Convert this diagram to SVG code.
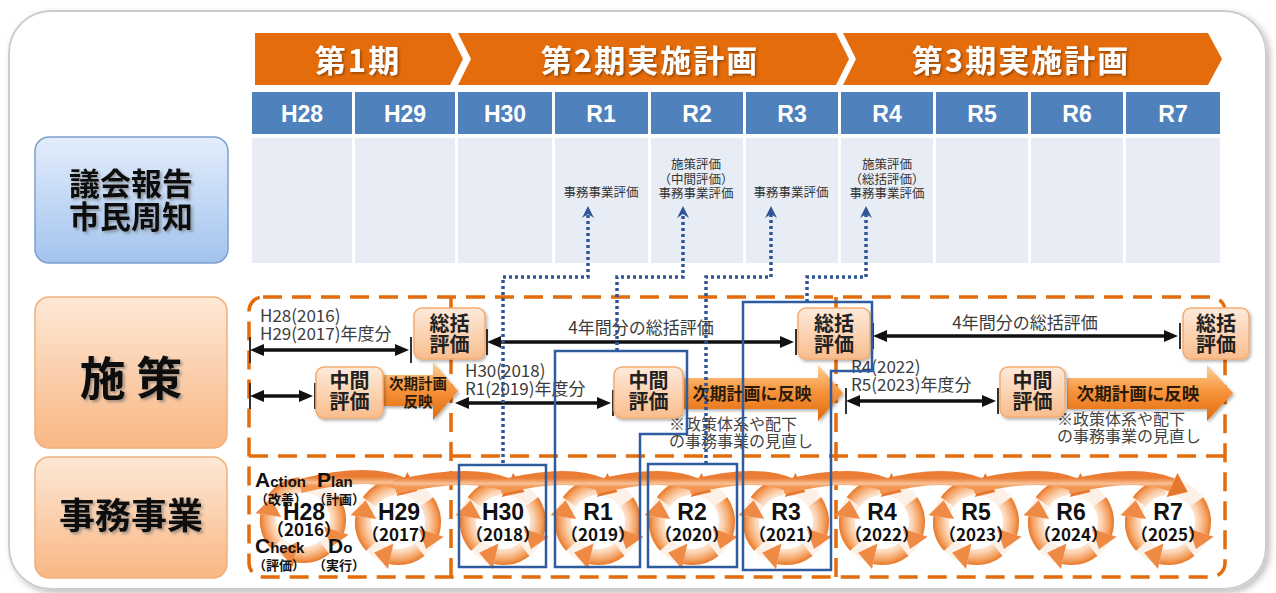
<svg xmlns="http://www.w3.org/2000/svg" xmlns:xlink="http://www.w3.org/1999/xlink" width="1276" height="593" viewBox="0 0 1276 593">
<style>
.jp{font-family:'Noto Sans CJK JP','Noto Sans',sans-serif}
.lat{font-family:'Liberation Sans',Arial,sans-serif}
.hdr{font-family:'Noto Sans CJK JP',sans-serif;font-weight:bold;font-size:31px;fill:#fff;text-anchor:middle;letter-spacing:2px}
.yr{font-family:'Liberation Sans',Arial,sans-serif;font-weight:bold;font-size:23px;fill:#fff;text-anchor:middle}
.cell{fill:#e8ecf4}
.hcell{fill:#4f81bd}
.small{font-family:'Noto Sans CJK JP',sans-serif;font-size:12.5px;fill:#333;text-anchor:middle}
.lbl{font-family:'Noto Sans CJK JP',sans-serif;font-weight:bold;fill:#111;text-anchor:middle}
.ev{fill:url(#gEval);stroke:#f2ac72;stroke-width:1.5}
.evt{font-family:'Noto Sans CJK JP',sans-serif;font-weight:bold;font-size:20px;fill:#222;text-anchor:middle}
.note{font-family:'Noto Sans CJK JP',sans-serif;font-size:17px;fill:#3c3c3c}
.note2{font-family:'Noto Sans CJK JP',sans-serif;font-size:16px;fill:#444}
.blk{fill:url(#gBlk)}
.blkt{font-family:'Noto Sans CJK JP',sans-serif;font-weight:bold;fill:#2a1a0a;text-anchor:middle}
.dash{fill:none;stroke:#e46c0a;stroke-width:3.5;stroke-dasharray:19 10}
.arr{stroke:#111;stroke-width:3.5;marker-start:url(#ah);marker-end:url(#ah)}
.tick{stroke:#333;stroke-width:2}
.dot{fill:none;stroke:#2f5597;stroke-width:3.5;stroke-dasharray:3 3;marker-end:url(#up)}
.hl{fill:none;stroke:#2e5c9e;stroke-width:2.5}
.rn{font-family:'Liberation Sans',Arial,sans-serif;font-weight:bold;font-size:23px;fill:#111;text-anchor:middle}
.ry{font-family:'Noto Sans CJK JP',sans-serif;font-weight:bold;font-size:17px;fill:#111;text-anchor:middle}
.pd{font-family:'Liberation Sans',Arial,sans-serif;font-weight:bold;fill:#111}
.pdj{font-family:'Noto Sans CJK JP',sans-serif;font-weight:bold;font-size:13px;fill:#111}
</style>
<defs>
<filter id="sh" x="-10%" y="-10%" width="130%" height="130%"><feDropShadow dx="1.5" dy="2" stdDeviation="1.5" flood-color="#000" flood-opacity="0.3"/></filter>
<filter id="psh" x="-5%" y="-5%" width="110%" height="110%"><feDropShadow dx="3" dy="3" stdDeviation="3" flood-color="#000" flood-opacity="0.25"/></filter>
<filter id="tsh" x="-10%" y="-10%" width="130%" height="130%"><feDropShadow dx="1.5" dy="1.5" stdDeviation="1" flood-color="#5a2a00" flood-opacity="0.6"/></filter>
<filter id="lsh" x="-10%" y="-10%" width="130%" height="130%"><feDropShadow dx="2" dy="2" stdDeviation="1.5" flood-color="#666" flood-opacity="0.6"/></filter>
<linearGradient id="gBlue" x1="0" y1="0" x2="0" y2="1"><stop offset="0" stop-color="#e3eefc"/><stop offset="1" stop-color="#a3c3ee"/></linearGradient>
<linearGradient id="gPeach" x1="0" y1="0" x2="0" y2="1"><stop offset="0" stop-color="#fde8d6"/><stop offset="1" stop-color="#f9b784"/></linearGradient>
<linearGradient id="gEval" x1="0" y1="0" x2="0" y2="1"><stop offset="0" stop-color="#fdeadb"/><stop offset="1" stop-color="#f9bd8c"/></linearGradient>
<linearGradient id="gBlk" x1="0" y1="0" x2="0" y2="1"><stop offset="0" stop-color="#fcd39a"/><stop offset="0.45" stop-color="#f7963e"/><stop offset="1" stop-color="#e26a0c"/></linearGradient>
<radialGradient id="gRing" gradientUnits="userSpaceOnUse" cx="0" cy="0" r="44"><stop offset="0.55" stop-color="#fff1e6"/><stop offset="0.7" stop-color="#fbd3b2"/><stop offset="0.87" stop-color="#f5a060"/><stop offset="1" stop-color="#e3701f"/></radialGradient>
<linearGradient id="gSw" x1="0" y1="0" x2="0" y2="1"><stop offset="0" stop-color="#ea7c33"/><stop offset="0.6" stop-color="#f9c197"/><stop offset="1" stop-color="#f29652"/></linearGradient>
<marker id="ah" markerUnits="userSpaceOnUse" markerWidth="14" markerHeight="12" viewBox="0 0 14 12" refX="8" refY="6" orient="auto-start-reverse"><path d="M0,0 L14,6 L0,12 z" fill="#111"/></marker>
<marker id="up" markerUnits="userSpaceOnUse" markerWidth="12" markerHeight="12" viewBox="0 0 12 12" refX="4" refY="6" orient="auto"><path d="M0,0 L12,6 L0,12 L4,6 z" fill="#2f5597"/></marker>
<g id="ring">
<circle r="35" fill="none" stroke="#fbe3d0" stroke-width="16" opacity="0.5"/>
<g fill="none" stroke="url(#gRing)" stroke-width="16">
<path d="M28.7,-20.1 A35,35 0 0 1 33.3,10.8"/>
<path d="M21.5,27.6 A35,35 0 0 1 -7.3,34.2"/>
<path d="M-26,23.4 A35,35 0 0 1 -34.7,-4.9"/>
<path d="M-28.7,-20.1 A35,35 0 0 1 -3.1,-34.9"/>
</g>
<g fill="#ef8a45">
<polygon points="45.7,14.8 20.9,6.8 28,27"/>
<polygon points="-10,46.9 -4.6,21.5 -23.9,30.7"/>
<polygon points="-47.6,-6.7 -21.8,-3.1 -32.3,-21.7"/>
</g>
</g>
<g id="sw">
<path d="M-3.1,-34.9 C25,-42 70,-50 99,-37" fill="none" stroke="url(#gSw)" stroke-width="14"/>
<polygon points="93.7,-25.1 104.3,-48.9 114.5,-30" fill="#e8772e"/>
</g>
</defs>

<rect id="panel" x="9" y="11" width="1257" height="578" rx="42" fill="#fff" stroke="#cdcdcd" stroke-width="2" filter="url(#psh)"/>

<g id="phases">
<polygon points="255,33 450,33 463,59 450,85 255,85" fill="#e46c0a"/>
<polygon points="458,33 836,33 849,59 836,85 458,85 471,59" fill="#e46c0a"/>
<polygon points="843,33 1208,33 1222,59 1208,85 843,85 856,59" fill="#e46c0a"/>
<g filter="url(#tsh)">
<text class="hdr" x="358" y="72">第1期</text>
<text class="hdr" x="650" y="72">第2期実施計画</text>
<text class="hdr" x="1021" y="72">第3期実施計画</text>
</g>
</g>

<g id="years">
<rect class="hcell" x="252" y="92" width="100" height="42"/>
<rect class="hcell" x="355" y="92" width="100" height="42"/>
<rect class="hcell" x="458" y="92" width="94" height="42"/>
<rect class="hcell" x="555" y="92" width="93" height="42"/>
<rect class="hcell" x="651" y="92" width="92" height="42"/>
<rect class="hcell" x="746" y="92" width="92" height="42"/>
<rect class="hcell" x="841" y="92" width="92" height="42"/>
<rect class="hcell" x="936" y="92" width="92" height="42"/>
<rect class="hcell" x="1031" y="92" width="92" height="42"/>
<rect class="hcell" x="1126" y="92" width="94" height="42"/>
<text class="yr" x="302" y="122">H28</text>
<text class="yr" x="405" y="122">H29</text>
<text class="yr" x="505" y="122">H30</text>
<text class="yr" x="601" y="122">R1</text>
<text class="yr" x="697" y="122">R2</text>
<text class="yr" x="792" y="122">R3</text>
<text class="yr" x="887" y="122">R4</text>
<text class="yr" x="982" y="122">R5</text>
<text class="yr" x="1077" y="122">R6</text>
<text class="yr" x="1173" y="122">R7</text>
</g>

<g id="report-row">
<rect class="cell" x="252" y="138" width="100" height="125"/>
<rect class="cell" x="355" y="138" width="100" height="125"/>
<rect class="cell" x="458" y="138" width="94" height="125"/>
<rect class="cell" x="555" y="138" width="93" height="125"/>
<rect class="cell" x="651" y="138" width="92" height="125"/>
<rect class="cell" x="746" y="138" width="92" height="125"/>
<rect class="cell" x="841" y="138" width="92" height="125"/>
<rect class="cell" x="936" y="138" width="92" height="125"/>
<rect class="cell" x="1031" y="138" width="92" height="125"/>
<rect class="cell" x="1126" y="138" width="94" height="125"/>
<text class="small" x="601" y="197">事務事業評価</text>
<text class="small" x="696" y="169">施策評価</text>
<text class="small" x="696" y="184">（中間評価）</text>
<text class="small" x="696" y="198">事務事業評価</text>
<text class="small" x="791" y="197">事務事業評価</text>
<text class="small" x="887" y="169">施策評価</text>
<text class="small" x="887" y="184">（総括評価）</text>
<text class="small" x="887" y="198">事務事業評価</text>
</g>

<g id="label-report">
<rect x="35" y="137" width="193" height="126" rx="14" fill="url(#gBlue)" stroke="#7f9fcb" stroke-width="1.5"/>
<g filter="url(#lsh)"><text class="lbl" x="131" y="195" font-size="31">議会報告</text>
<text class="lbl" x="131" y="228" font-size="31">市民周知</text></g>
</g>
<g id="label-policy">
<rect x="35" y="297" width="192" height="151" rx="14" fill="url(#gPeach)" stroke="#efb07c" stroke-width="1.5"/>
<text class="lbl" x="131" y="395" font-size="46" filter="url(#lsh)">施 策</text>
</g>
<g id="label-project">
<rect x="35" y="457" width="192" height="121" rx="14" fill="url(#gPeach)" stroke="#efb07c" stroke-width="1.5"/>
<text class="lbl" x="131" y="529" font-size="36" filter="url(#lsh)">事務事業</text>
</g>

<g id="frames">
<rect class="dash" x="249" y="297" width="976" height="280" rx="14"/>
<line class="dash" x1="249" y1="456" x2="1225" y2="456"/>
<line class="dash" x1="451" y1="297" x2="451" y2="577"/>
<line class="dash" x1="836" y1="297" x2="836" y2="577"/>
</g>

<g id="pdca">
<use xlink:href="#ring" href="#ring" transform="translate(303,520)"/>
<use xlink:href="#ring" href="#ring" transform="translate(398,522)"/>
<use xlink:href="#ring" href="#ring" transform="translate(503,522)"/>
<use xlink:href="#ring" href="#ring" transform="translate(598,522)"/>
<use xlink:href="#ring" href="#ring" transform="translate(692,522)"/>
<use xlink:href="#ring" href="#ring" transform="translate(786,522)"/>
<use xlink:href="#ring" href="#ring" transform="translate(882,522)"/>
<use xlink:href="#ring" href="#ring" transform="translate(976,522)"/>
<use xlink:href="#ring" href="#ring" transform="translate(1071,522)"/>
<use xlink:href="#ring" href="#ring" transform="translate(1168,522)"/>
<use xlink:href="#sw" href="#sw" transform="translate(303,521)"/>
<use xlink:href="#sw" href="#sw" transform="translate(398,522) scale(1.105,1)"/>
<use xlink:href="#sw" href="#sw" transform="translate(503,522)"/>
<use xlink:href="#sw" href="#sw" transform="translate(598,522) scale(0.99,1)"/>
<use xlink:href="#sw" href="#sw" transform="translate(692,522) scale(0.99,1)"/>
<use xlink:href="#sw" href="#sw" transform="translate(786,522) scale(1.01,1)"/>
<use xlink:href="#sw" href="#sw" transform="translate(882,522) scale(0.99,1)"/>
<use xlink:href="#sw" href="#sw" transform="translate(976,522)"/>
<use xlink:href="#sw" href="#sw" transform="translate(1071,522) scale(1.02,1)"/>
<text class="rn" x="399" y="520">H29</text><text class="ry" x="399" y="541">（2017）</text>
<text class="rn" x="503" y="520">H30</text><text class="ry" x="503" y="541">（2018）</text>
<text class="rn" x="598" y="520">R1</text><text class="ry" x="598" y="541">（2019）</text>
<text class="rn" x="692" y="520">R2</text><text class="ry" x="692" y="541">（2020）</text>
<text class="rn" x="786" y="520">R3</text><text class="ry" x="786" y="541">（2021）</text>
<text class="rn" x="882" y="520">R4</text><text class="ry" x="882" y="541">（2022）</text>
<text class="rn" x="976" y="520">R5</text><text class="ry" x="976" y="541">（2023）</text>
<text class="rn" x="1071" y="520">R6</text><text class="ry" x="1071" y="541">（2024）</text>
<text class="rn" x="1168" y="520">R7</text><text class="ry" x="1168" y="541">（2025）</text>
<text class="pd" x="255" y="487"><tspan font-size="21">A</tspan><tspan font-size="15">ction</tspan></text>
<text class="pdj" x="255" y="504">（改善）</text>
<text class="pd" x="317" y="487"><tspan font-size="21">P</tspan><tspan font-size="15">lan</tspan></text>
<text class="pdj" x="313" y="504">（計画）</text>
<text class="rn" x="304" y="520" font-size="19">H28</text>
<text class="ry" x="304" y="536" font-size="13">（2016）</text>
<text class="pd" x="255" y="553"><tspan font-size="21">C</tspan><tspan font-size="15">heck</tspan></text>
<text class="pdj" x="253" y="570">（評価）</text>
<text class="pd" x="328" y="553"><tspan font-size="21">D</tspan><tspan font-size="15">o</tspan></text>
<text class="pdj" x="313" y="570">（実行）</text>
</g>

<g id="policy-texts">
<text class="note" x="260" y="322">H28(2016)</text>
<text class="note" x="260" y="340">H29(2017)年度分</text>
<text class="note" x="641" y="334" text-anchor="middle" font-size="18">4年間分の総括評価</text>
<text class="note" x="1025" y="329" text-anchor="middle" font-size="18">4年間分の総括評価</text>
<text class="note" x="465" y="377">H30(2018)</text>
<text class="note" x="465" y="395">R1(2019)年度分</text>
<text class="note" x="851" y="373">R4(2022)</text>
<text class="note" x="851" y="391">R5(2023)年度分</text>
<text class="note2" x="669" y="430">※政策体系や配下</text>
<text class="note2" x="669" y="447">の事務事業の見直し</text>
<text class="note2" x="1057" y="425">※政策体系や配下</text>
<text class="note2" x="1057" y="442">の事務事業の見直し</text>
</g>

<g id="reflect-arrows">
<polygon class="blk" points="383,375 433,375 433,362 458,391 433,420 433,406 383,406" filter="url(#sh)"/>
<text class="blkt" x="418" y="389" font-size="14.5">次期計画</text>
<text class="blkt" x="418" y="407" font-size="14.5">反映</text>
<polygon class="blk" points="684,378 818,378 818,365 843,393 818,421 818,409 684,409" filter="url(#sh)"/>
<text class="blkt" x="752" y="400" font-size="17">次期計画に反映</text>
<polygon class="blk" points="1067,378 1207,378 1207,365 1233,393 1207,421 1207,409 1067,409" filter="url(#sh)"/>
<text class="blkt" x="1138" y="400" font-size="17.5">次期計画に反映</text>
</g>

<g id="connectors">
<line class="arr" x1="256" y1="350" x2="403" y2="350"/>
<line class="tick" x1="250" y1="337" x2="250" y2="363"/><line class="tick" x1="411" y1="337" x2="411" y2="363"/>
<line class="arr" x1="256" y1="396" x2="307" y2="396"/>
<line class="tick" x1="250" y1="383" x2="250" y2="409"/><line class="tick" x1="315" y1="383" x2="315" y2="409"/>
<line class="arr" x1="493" y1="342" x2="788" y2="342"/>
<line class="tick" x1="487" y1="329" x2="487" y2="355"/><line class="tick" x1="796" y1="329" x2="796" y2="355"/>
<line class="arr" x1="461" y1="403" x2="605" y2="403"/>
<line class="tick" x1="613" y1="390" x2="613" y2="416"/>
<line class="arr" x1="879" y1="336" x2="1172" y2="336"/>
<line class="tick" x1="873" y1="323" x2="873" y2="349"/><line class="tick" x1="1180" y1="323" x2="1180" y2="349"/>
<line class="arr" x1="852" y1="401" x2="990" y2="401"/>
<line class="tick" x1="846" y1="388" x2="846" y2="414"/><line class="tick" x1="998" y1="388" x2="998" y2="414"/>
<path class="dot" d="M503,463 V277 H588 V214"/>
<path class="dot" d="M617,351 V277 H683 V214"/>
<path class="dot" d="M706,464 V277 H771 V214"/>
<path class="dot" d="M807,302 V277 H866 V214"/>
</g>

<g id="eval-boxes">
<g id="sokatsu1"><rect class="ev" x="414" y="308" width="71" height="51" rx="8" filter="url(#sh)"/><text class="evt" x="449.5" y="331">総括</text><text class="evt" x="449.5" y="352">評価</text></g>
<g id="sokatsu2"><rect class="ev" x="798" y="308" width="72" height="51" rx="8" filter="url(#sh)"/><text class="evt" x="834" y="331">総括</text><text class="evt" x="834" y="352">評価</text></g>
<g id="sokatsu3"><rect class="ev" x="1183" y="308" width="66" height="51" rx="8" filter="url(#sh)"/><text class="evt" x="1216" y="331">総括</text><text class="evt" x="1216" y="352">評価</text></g>
<g id="chukan1"><rect class="ev" x="316" y="367" width="67" height="51" rx="8" filter="url(#sh)"/><text class="evt" x="349.5" y="388">中間</text><text class="evt" x="349.5" y="409">評価</text></g>
<g id="chukan2"><rect class="ev" x="614" y="367" width="69" height="51" rx="8" filter="url(#sh)"/><text class="evt" x="648.5" y="388">中間</text><text class="evt" x="648.5" y="409">評価</text></g>
<g id="chukan3"><rect class="ev" x="1000" y="367" width="65" height="50" rx="8" filter="url(#sh)"/><text class="evt" x="1032.5" y="388">中間</text><text class="evt" x="1032.5" y="409">評価</text></g>
</g>

<g id="highlights">
<rect class="hl" x="459" y="465" width="87" height="102"/>
<path class="hl" d="M555,567 V351 H687 V434 H640 V567 Z"/>
<rect class="hl" x="648" y="464" width="89" height="103"/>
<path class="hl" d="M743,570 V302 H872 V371 H831 V570 Z"/>
</g>
</svg>
